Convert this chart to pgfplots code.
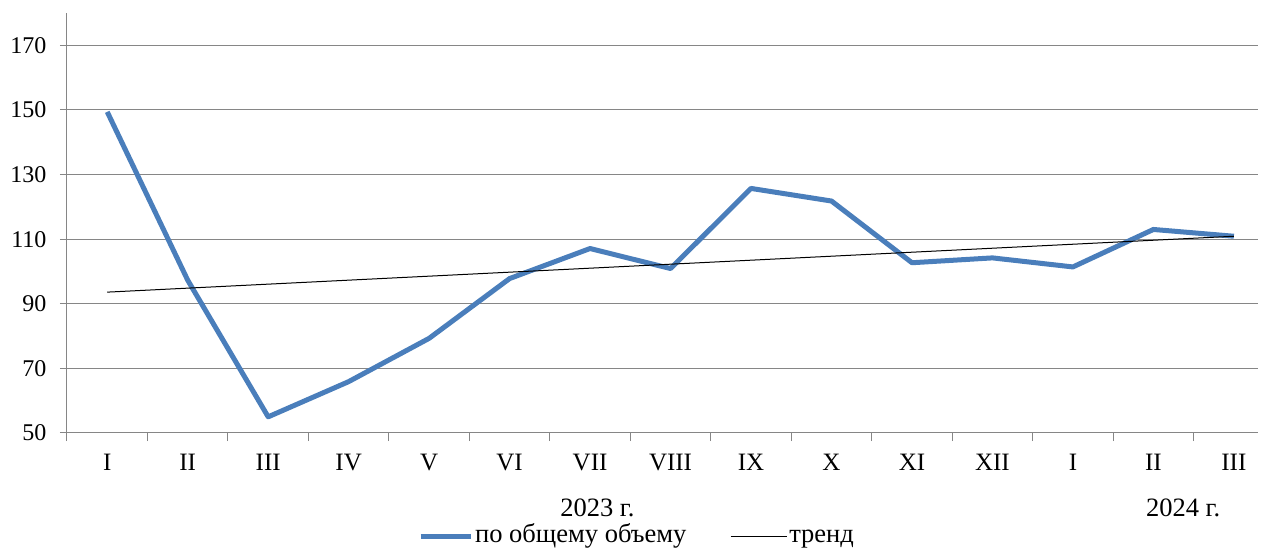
\documentclass[border=0pt]{standalone}
\usepackage{pgfplots}
\pgfplotsset{compat=1.18}
\usepackage{fontspec}
\setmainfont{Liberation Serif}
\definecolor{serblue}{RGB}{74,126,187}
\definecolor{axgray}{RGB}{134,134,134}
\pgfplotsset{trend image/.style={legend image code/.code={%
  \draw[black, line width=1pt] (0pt,6pt) -- (44pt,6pt);
  \path (0pt,6pt) -- (56pt,6pt);}}}

\begin{document}
\begin{tikzpicture}
\useasboundingbox (-67pt,-126pt) rectangle (1197pt,433pt);
\begin{axis}[
  at={(0,0)}, anchor=south west,
  scale only axis, width=1191pt, height=420pt,
  xmin=-0.5, xmax=14.3, ymin=50, ymax=180,
  clip=false,
  axis x line*=bottom, axis y line*=left,
  axis line style={axgray, line width=1pt},
  xtick={0,...,14},
  xticklabels={I,II,III,IV,V,VI,VII,VIII,IX,X,XI,XII,I,II,III},
  minor xtick={-0.5,0.5,...,13.5},
  ytick={50,70,...,170},
  ymajorgrids, grid style={axgray, line width=1pt},
  tick align=outside,
  major tick length=7pt, minor tick length=8pt,
  major x tick style={draw=none},
  minor x tick style={axgray, line width=1pt},
  y tick style={axgray, line width=1pt},
  tick label style={font=\fontsize{24}{28}\selectfont},
  /pgf/number format/assume math mode=true,
  xticklabel style={yshift=-11pt, font=\fontsize{25}{29}\selectfont},
  yticklabel style={xshift=-10pt},
  legend style={at={(0.4786,0)}, anchor=center, yshift=-101pt, draw=none,
    fill=none, font=\fontsize{26.5}{30}\selectfont,
    legend columns=2,
    cells={anchor=base west, text height=19pt, text depth=6pt, inner sep=2pt},
    /tikz/every even column/.append style={column sep=42pt}},
  legend image code/.code={\draw[#1] (0pt,6pt) -- (50pt,6pt);},
]
\addplot[serblue, line width=5pt, line join=round] coordinates {
  (0,149.4) (1,97.3) (2,55.0) (3,65.9) (4,79.3) (5,97.8) (6,107.1)
  (7,100.9) (8,125.7) (9,121.8) (10,102.7) (11,104.2) (12,101.4)
  (13,113.0) (14,110.9)
};
\addlegendentry{по общему объему}
\addplot[black, line width=1pt, trend image] coordinates {(0,93.6) (14,110.9)};
\addlegendentry{тренд}
\node[font=\fontsize{26.5}{30}\selectfont] at (axis cs:6.09,50) [yshift=-75pt] {2023 г.};
\node[font=\fontsize{26.5}{30}\selectfont] at (axis cs:13.37,50) [yshift=-75pt] {2024 г.};
\end{axis}
\end{tikzpicture}
\end{document}
